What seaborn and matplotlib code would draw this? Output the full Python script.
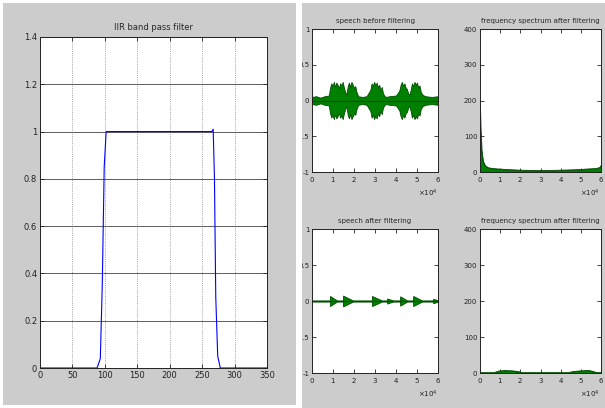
import numpy as np
import pandas as pd
import matplotlib
matplotlib.use("Agg")
import matplotlib.pyplot as plt
import seaborn as sns
from matplotlib.patches import Rectangle

# band pass filter response
filt_freq = [0, 88, 93, 96, 99, 102, 104, 180, 265, 267, 269, 271, 274, 278, 350]
filt_gain = [0, 0, 0.04, 0.35, 0.85, 1.0, 1.0, 1.0, 1.0, 1.01, 0.8, 0.3, 0.05, 0, 0]

# speech envelope before filtering (samples, amplitude)
t_before = [0, 2000, 4000, 6000, 8000, 8600, 9200, 9800, 10400, 11000, 11600, 12200, 12800,
            13400, 14000, 14600, 15200, 15800, 16400, 17000, 17600, 18200, 18800, 19400,
            20000, 20600, 21200, 22000, 24000, 26000, 27800, 28400, 29000, 29600, 30200,
            30800, 31400, 32000, 32600, 33200, 33800, 34400, 35000, 37000, 40000, 41600,
            42200, 42800, 43400, 44000, 44600, 45200, 45800, 46400, 47000, 47600, 48200,
            48800, 49400, 50000, 50600, 51200, 51800, 52600, 54000, 57000, 60000]
amp_before = [0.05, 0.06, 0.04, 0.06, 0.07, 0.18, 0.24, 0.2, 0.26, 0.19, 0.25, 0.22, 0.17,
              0.24, 0.21, 0.26, 0.18, 0.12, 0.08, 0.2, 0.25, 0.19, 0.26, 0.22, 0.18, 0.2,
              0.12, 0.06, 0.05, 0.06, 0.15, 0.24, 0.2, 0.26, 0.21, 0.25, 0.18, 0.22, 0.14,
              0.19, 0.1, 0.07, 0.05, 0.06, 0.07, 0.14, 0.22, 0.26, 0.2, 0.24, 0.18, 0.16,
              0.1, 0.08, 0.15, 0.24, 0.2, 0.26, 0.22, 0.25, 0.18, 0.21, 0.12, 0.08, 0.06,
              0.05, 0.06]

# speech envelope after filtering: sharp onset, then decay
t_after = [0, 8500, 8600, 11900, 14700, 14800, 19500, 28500, 28600, 33300, 35700, 35800,
           38600, 41900, 42000, 45300, 48100, 48200, 52400, 57600, 57700, 60000]
amp_after = [0.008, 0.008, 0.07, 0.008, 0.008, 0.075, 0.008, 0.008, 0.07, 0.008, 0.008, 0.035,
             0.008, 0.008, 0.065, 0.008, 0.008, 0.07, 0.008, 0.008, 0.03, 0.01]

# magnitude spectra
f_before = [0, 300, 800, 1500, 2500, 4000, 6000, 10000, 20000, 30000, 40000, 50000,
            55000, 58000, 59500, 60000]
mag_before = [185, 120, 60, 30, 18, 12, 10, 8, 5, 4, 5, 7, 9, 10, 13, 18]
f_after = [0, 7000, 9000, 12000, 16000, 19000, 21000, 44000, 46000, 50000, 54000,
           55500, 58000, 60000]
mag_after = [1, 1, 5, 7, 6, 4, 1, 1, 4, 6, 7, 5, 1, 1]

sns.set_style("ticks")
plt.rcParams["font.family"] = ["DejaVu Sans"]

W, H = 605, 408
fig = plt.figure(figsize=(W / 100, H / 100), dpi=100)
fig.patch.set_facecolor("white")
GRAY = "#cccccc"
fig.patches.append(Rectangle((3 / W, 1 - 405 / H), 293 / W, 402 / H, transform=fig.transFigure,
                             facecolor=GRAY, edgecolor="none", zorder=-2))
fig.patches.append(Rectangle((302 / W, 0), 303 / W, 1 - 3 / H, transform=fig.transFigure,
                             facecolor=GRAY, edgecolor="none", zorder=-2))


def box(x0, y0, x1, y1):
    return [x0 / W, 1 - y1 / H, (x1 - x0) / W, (y1 - y0) / H]


def matlab_axes(ax, fs):
    ax.set_facecolor("white")
    for s in ax.spines.values():
        s.set_visible(True)
        s.set_color("#222222")
        s.set_linewidth(0.7)
    ax.tick_params(direction="in", top=True, right=True, labelsize=fs, length=3,
                   width=0.6, pad=2, colors="#222222")
    ax.set_xlabel("")
    ax.set_ylabel("")


# left: filter
ax = fig.add_axes(box(40, 37, 267, 368))
sns.lineplot(x=filt_freq, y=filt_gain, ax=ax, color="#0000ff", lw=0.8)
ax.set_xlim(0, 350)
ax.set_ylim(0, 1.4)
ax.set_xticks(range(0, 351, 50))
ax.set_yticks(np.arange(0, 1.41, 0.2))
ax.set_yticklabels(["0", "0.2", "0.4", "0.6", "0.8", "1", "1.2", "1.4"])
ax.yaxis.grid(True, color="#444444", lw=0.6, ls="-")
ax.xaxis.grid(True, color="#666666", lw=0.5, ls=":")
matlab_axes(ax, 6)
ax.set_title("IIR band pass filter", fontsize=6, pad=5)

GREEN = "#008000"
DARK = "#004d00"

# speech before filtering
ax1 = fig.add_axes(box(312, 29, 438, 172))
ax1.fill_between(t_before, amp_before, [-a for a in amp_before], color=GREEN, lw=0.6,
                 edgecolor=DARK)
sns.lineplot(x=t_before, y=[0] * len(t_before), ax=ax1, color=DARK, lw=0.8)
ax1.set_xlim(0, 60000)
ax1.set_ylim(-1, 1)
ax1.set_yticks([-1, -0.5, 0, 0.5, 1])
ax1.set_yticklabels(["-1", "-0.5", "0", "0.5", "1"])
matlab_axes(ax1, 5)
ax1.set_title("speech before filtering", fontsize=5, pad=4)

# spectrum before
ax2 = fig.add_axes(box(480, 29, 601, 172))
ax2.fill_between(f_before, mag_before, 0, color=GREEN, lw=0.6, edgecolor=DARK)
sns.lineplot(x=f_before, y=mag_before, ax=ax2, color=DARK, lw=0.6)
ax2.set_xlim(0, 60000)
ax2.set_ylim(0, 400)
ax2.set_yticks([0, 100, 200, 300, 400])
matlab_axes(ax2, 5)
ax2.set_title("frequency spectrum after filtering", fontsize=5, pad=4)

# speech after filtering
ax3 = fig.add_axes(box(312, 229, 438, 373))
ax3.fill_between(t_after, amp_after, [-a for a in amp_after], color=GREEN, lw=0.6,
                 edgecolor=DARK)
sns.lineplot(x=t_after, y=[0] * len(t_after), ax=ax3, color=DARK, lw=0.8)
ax3.set_xlim(0, 60000)
ax3.set_ylim(-1, 1)
ax3.set_yticks([-1, -0.5, 0, 0.5, 1])
ax3.set_yticklabels(["-1", "-0.5", "0", "0.5", "1"])
matlab_axes(ax3, 5)
ax3.set_title("speech after filtering", fontsize=5, pad=4)

# spectrum after
ax4 = fig.add_axes(box(480, 229, 601, 373))
ax4.fill_between(f_after, mag_after, 0, color=GREEN, lw=0.6, edgecolor=DARK)
sns.lineplot(x=f_after, y=mag_after, ax=ax4, color=DARK, lw=0.6)
ax4.set_xlim(0, 60000)
ax4.set_ylim(0, 400)
ax4.set_yticks([0, 100, 200, 300, 400])
matlab_axes(ax4, 5)
ax4.set_title("frequency spectrum after filtering", fontsize=5, pad=4)

for a in (ax1, ax2, ax3, ax4):
    a.set_xticks(range(0, 60001, 10000))
    a.ticklabel_format(style="sci", axis="x", scilimits=(0, 0), useMathText=True)
    a.xaxis.get_offset_text().set_fontsize(5)
for a in (ax2, ax4):
    a.xaxis.get_offset_text().set_x(0.99)

# white gap between the two windows, clips the leftmost tick labels
fig.patches.append(Rectangle((296 / W, 0), 6 / W, 1, transform=fig.transFigure,
                             facecolor="white", edgecolor="none", zorder=5))

fig.savefig("out.png", dpi=100)
